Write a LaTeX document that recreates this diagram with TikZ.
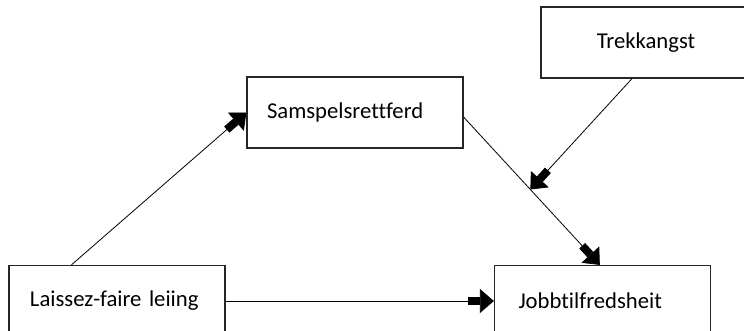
\documentclass[tikz,border=0pt]{standalone}
\usepackage{fontspec}
\setmainfont{Carlito}[Ligatures=NoCommon]
\usetikzlibrary{arrows.meta}

\begin{document}
\begin{tikzpicture}[x=0.75pt,y=-0.75pt,
  box/.style={draw=black!85, line width=0.9pt, minimum height=53.25pt,
    inner xsep=15.75pt, text width=130.5pt, align=left,
    font=\fontsize{17}{20}\selectfont},
  fat/.style={line width=0.6pt,
    -{Rectangle[length=9pt,width=6pt,sep=0pt]Triangle[length=10.5pt,width=18pt]}}]
  \useasboundingbox (0,0) rectangle (744,330);

  \node[box]                                  (laissez)  at (117,301)   {Laissez-faire leiing};
  \node[box, inner xsep=18pt, text width=126pt] (jobb)   at (602.5,301) {Jobbtilfredsheit};
  \node[box, inner xsep=15pt, text width=132pt] (samspel) at (355,112.5) {Samspelsrettferd};
  \node[box, text width=126pt, align=center]  (trekk)    at (646,42.5)  {Trekkangst};

  \path[fat]
  ([xshift=47.25pt]laissez.north west)
  edge (samspel.west)

  ([yshift=-3.4pt]samspel.east)
  edge coordinate[pos=0.49] (mid) ([xshift=-2pt]jobb.north)

  (laissez)
  edge (jobb)
;
  \draw[fat] ([xshift=-10.5pt]trekk.south) -- (mid);
\end{tikzpicture}
\end{document}
